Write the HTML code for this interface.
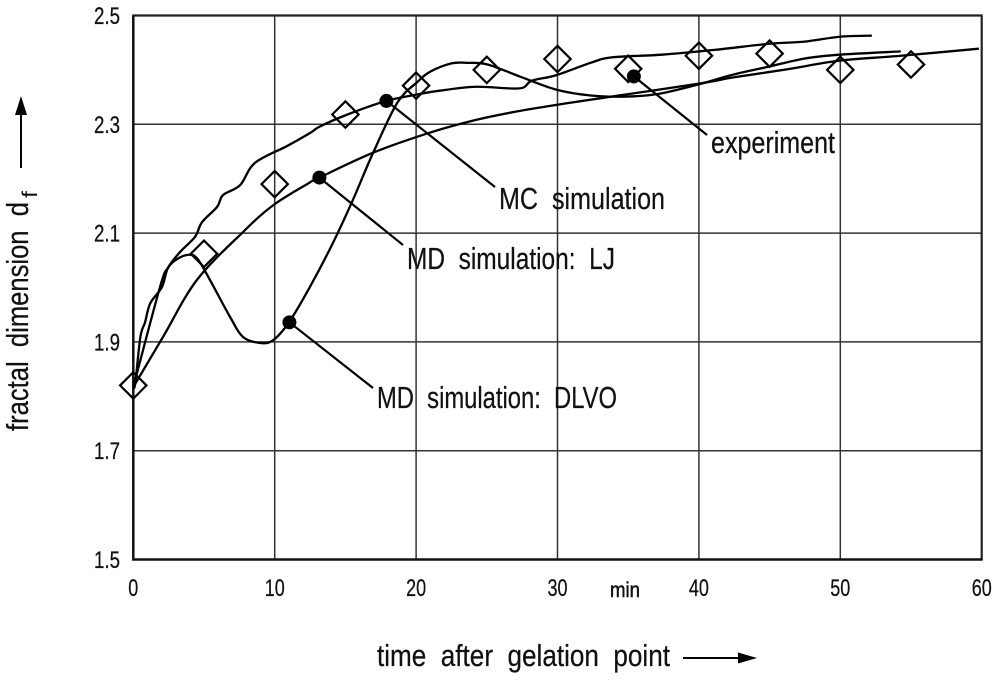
<!DOCTYPE html>
<html lang="en">
<head>
<meta charset="utf-8">
<title>Fractal dimension versus time after gelation point</title>
<style>
  html, body { margin: 0; padding: 0; background: #fff; }
  svg { display: block; }
  text { font-family: "Liberation Sans Narrow", "Liberation Sans", sans-serif; fill: #111; stroke: #111; stroke-width: 0.25; }
</style>
</head>
<body>
<svg id="chart" xmlns="http://www.w3.org/2000/svg" width="1000" height="680" viewBox="0 0 1000 680">
  <rect x="0" y="0" width="1000" height="680" fill="#fff"/>
  <g id="grid"></g>
  <g id="series"></g>
  <g id="leaders"></g>
  <g id="markers"></g>
  <g id="ticks"></g>

  <text x="711" y="153" font-size="31" textLength="124" lengthAdjust="spacingAndGlyphs">experiment</text>
  <text x="499" y="209" font-size="31" textLength="166" lengthAdjust="spacingAndGlyphs">MC&#160;&#160;simulation</text>
  <text x="407" y="269" font-size="31" textLength="208" lengthAdjust="spacingAndGlyphs">MD&#160;&#160;simulation:&#160;&#160;LJ</text>
  <text x="377" y="408" font-size="31" textLength="240" lengthAdjust="spacingAndGlyphs">MD&#160;&#160;simulation:&#160;&#160;DLVO</text>
  <text x="610" y="597" font-size="21" textLength="30" lengthAdjust="spacingAndGlyphs" style="stroke-width:0.5">min</text>

  <text x="377" y="666" font-size="31" textLength="293" lengthAdjust="spacingAndGlyphs">time&#160;&#160;after&#160;&#160;gelation&#160;&#160;point</text>
  <line x1="683" y1="658" x2="745" y2="658" stroke="#000" stroke-width="2"/>
  <polygon points="757,658 738,652.5 738,663.5" fill="#000"/>

  <text x="28" y="431" font-size="31" textLength="229" lengthAdjust="spacingAndGlyphs" transform="rotate(-90 28 431)">fractal&#160;&#160;dimension&#160;&#160;d</text>
  <text x="37" y="198" font-size="21" textLength="7" lengthAdjust="spacingAndGlyphs" transform="rotate(-90 37 198)" style="stroke-width:0">f</text>
  <line x1="21" y1="168" x2="21" y2="108" stroke="#000" stroke-width="2"/>
  <polygon points="21,96 15,115 27,115" fill="#000"/>
</svg>
<script>
// Axis tick labels
const xTicks = [0, 10, 20, 30, 40, 50, 60];
const yTicks = ["1.5", "1.7", "1.9", "2.1", "2.3", "2.5"];

// Experiment series (diamonds)
const expTime = [0, 5, 10, 15, 20, 25, 30, 35, 40, 45, 50, 55];
const expDim = [1.82, 2.062, 2.19, 2.318, 2.371, 2.40, 2.42, 2.402, 2.426, 2.43, 2.40, 2.41];

// MC simulation curve
const mcTime = [0, 0.14, 0.5, 0.83, 1.2, 2.03, 2.45, 3.3, 4.36, 4.86, 5.92, 6.35, 7.55, 8.6, 10.87, 12.5, 13.2, 15.15, 17.9, 20.1, 21.73, 24.27, 27.3, 28.17, 29.87, 32.34, 33.83, 37.37, 41.19, 44.94, 47.49, 49.96, 52.23];
const mcDim = [1.817, 1.824, 1.909, 1.936, 1.971, 2.001, 2.036, 2.065, 2.093, 2.120, 2.148, 2.170, 2.188, 2.229, 2.260, 2.284, 2.296, 2.318, 2.343, 2.355, 2.362, 2.369, 2.366, 2.380, 2.390, 2.413, 2.423, 2.428, 2.437, 2.448, 2.452, 2.461, 2.463];

// MD simulation: DLVO curve
const dlvoTime = [0, 1.89, 2.45, 3.09, 3.87, 4.5, 5.42, 6.84, 7.76, 8.96, 9.88, 11.01, 12.49, 14.12, 15.53, 16.95, 18.68, 20.1, 21.02, 22.5, 23.57, 25.05, 27.32, 29.87, 32.34, 34.89, 37.15, 39.92, 42.39, 44.94, 47.49, 49.96, 54.28];
const dlvoDim = [1.817, 2.001, 2.036, 2.052, 2.060, 2.054, 2.014, 1.946, 1.909, 1.898, 1.903, 1.936, 2.001, 2.082, 2.161, 2.247, 2.340, 2.378, 2.397, 2.412, 2.413, 2.410, 2.388, 2.364, 2.353, 2.351, 2.356, 2.373, 2.391, 2.406, 2.421, 2.428, 2.434];

// MD simulation: LJ curve
const ljTime = [0, 2.1, 4.5, 7.76, 9.88, 12.35, 13.16, 16.98, 21.02, 24.06, 27, 30.0, 33.83, 40.06, 42.39, 46.21, 49.96, 54.28, 59.8];
const ljDim = [1.817, 1.909, 2.014, 2.102, 2.151, 2.191, 2.202, 2.248, 2.285, 2.307, 2.323, 2.336, 2.351, 2.375, 2.386, 2.401, 2.417, 2.426, 2.439];

// Callout anchor points on the curves: experiment, MC, LJ, DLVO
const calloutNames = ["experiment", "mc", "lj", "dlvo"];
const calloutTime = [35.4, 17.9, 13.16, 11.04];
const calloutDim = [2.388, 2.343, 2.202, 1.936];

const SVG_NS = "http://www.w3.org/2000/svg";
const plotLeft = 133.3, plotRight = 981.7, plotTop = 15.5, plotBottom = 559.5;
const leaderEnds = { experiment: [707, 135], mc: [495, 187], lj: [403, 245], dlvo: [373, 388] };

function xScale(t) { return plotLeft + (t / 60) * (plotRight - plotLeft); }
function yScale(d) { return plotBottom - ((d - 1.5) / 1) * (plotBottom - plotTop); }

function make(tag, attrs, parent) {
  const el = document.createElementNS(SVG_NS, tag);
  for (const k in attrs) el.setAttribute(k, attrs[k]);
  parent.appendChild(el);
  return el;
}

function smoothPath(times, dims) {
  const p = times.map((t, i) => [xScale(t), yScale(dims[i])]);
  let s = "M" + p[0][0].toFixed(2) + " " + p[0][1].toFixed(2);
  for (let i = 0; i < p.length - 1; i++) {
    const a = p[Math.max(i - 1, 0)], b = p[i], c = p[i + 1], e = p[Math.min(i + 2, p.length - 1)];
    const c1x = b[0] + (c[0] - a[0]) / 6, c1y = b[1] + (c[1] - a[1]) / 6;
    const c2x = c[0] - (e[0] - b[0]) / 6, c2y = c[1] - (e[1] - b[1]) / 6;
    s += " C" + c1x.toFixed(2) + " " + c1y.toFixed(2) + " " + c2x.toFixed(2) + " " + c2y.toFixed(2) + " " + c[0].toFixed(2) + " " + c[1].toFixed(2);
  }
  return s;
}

const gridG = document.getElementById("grid");
const seriesG = document.getElementById("series");
const leadersG = document.getElementById("leaders");
const markersG = document.getElementById("markers");
const ticksG = document.getElementById("ticks");

// Grid lines and tick labels
xTicks.forEach(function (t) {
  if (t !== 0 && t !== 60) {
    const v = make("line", { x1: xScale(t), x2: xScale(t), y1: plotTop, y2: plotBottom, stroke: "#333", "stroke-width": 1.5 }, gridG);
    
    
  }
  const label = String(t);
  const tx = make("text", { x: xScale(t), y: 596, "font-size": 24, "text-anchor": "middle", textLength: label.length * 10, lengthAdjust: "spacingAndGlyphs" }, ticksG);
  tx.textContent = label;
  
  
});

yTicks.forEach(function (label) {
  const d = parseFloat(label);
  if (label !== "1.5" && label !== "2.5") {
    const h = make("line", { x1: plotLeft, x2: plotRight, y1: yScale(d), y2: yScale(d), stroke: "#333", "stroke-width": 1.5 }, gridG);
    
    
  }
  const ty = make("text", { x: 120, y: yScale(d) + 8.5, "font-size": 24, "text-anchor": "end", textLength: 26, lengthAdjust: "spacingAndGlyphs" }, ticksG);
  ty.textContent = label;
  
  
});

// Plot frame
const frameTop = make("line", { x1: plotLeft - 1, x2: plotRight + 1, y1: plotTop, y2: plotTop, stroke: "#222", "stroke-width": 2.2 }, gridG);


const frameRight = make("line", { x1: plotRight, x2: plotRight, y1: plotTop, y2: plotBottom, stroke: "#222", "stroke-width": 2.2 }, gridG);


const frameBottom = make("line", { x1: plotLeft - 1, x2: plotRight + 1, y1: plotBottom, y2: plotBottom, stroke: "#111", "stroke-width": 2.5 }, gridG);


const frameLeft = make("line", { x1: plotLeft, x2: plotLeft, y1: plotTop, y2: plotBottom + 1, stroke: "#111", "stroke-width": 2.5 }, gridG);



// Curves
const mcLine = make("path", { d: smoothPath(mcTime, mcDim), fill: "none", stroke: "#000", "stroke-width": 2.3 }, seriesG);


const dlvoLine = make("path", { d: smoothPath(dlvoTime, dlvoDim), fill: "none", stroke: "#000", "stroke-width": 2.3 }, seriesG);


const ljLine = make("path", { d: smoothPath(ljTime, ljDim), fill: "none", stroke: "#000", "stroke-width": 2.3 }, seriesG);



// Experiment diamonds
expTime.forEach(function (t, i) {
  const cx = xScale(t), cy = yScale(expDim[i]), r = 13.2;
  const pts = [[cx, cy - r], [cx + r, cy], [cx, cy + r], [cx - r, cy]].map(function (q) { return q[0].toFixed(2) + "," + q[1].toFixed(2); }).join(" ");
  const dm = make("polygon", { points: pts, fill: "none", stroke: "#000", "stroke-width": 2.2 }, markersG);
  
  
});

// Callouts
calloutNames.forEach(function (name, i) {
  const cx = xScale(calloutTime[i]), cy = yScale(calloutDim[i]);
  const end = leaderEnds[name];
  const ld = make("line", { x1: cx, y1: cy, x2: end[0], y2: end[1], stroke: "#000", "stroke-width": 2.2 }, leadersG);
  
  
  const dot = make("circle", { cx: cx, cy: cy, r: 7, fill: "#000" }, leadersG);
  
  
});
</script>
</body>
</html>
